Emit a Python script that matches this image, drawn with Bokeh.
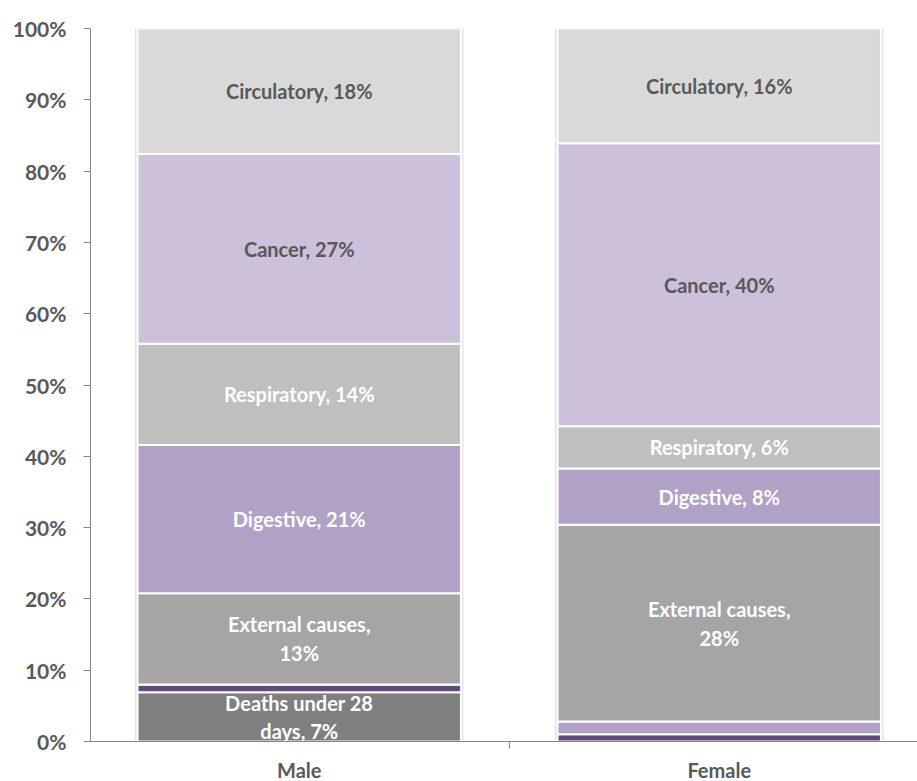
from bokeh.plotting import figure
from bokeh.models import ColumnDataSource, Range1d, FixedTicker
from bokeh.core.properties import value
from bokeh.embed import file_html
from bokeh.resources import INLINE

# ---- data (percent of deaths) ----
categories = ["Male", "Female"]
series = ["Deaths under 28 days", "Other", "Maternal", "External causes",
          "Digestive", "Respiratory", "Cancer", "Circulatory"]
male = [6.9, 1.1, 0.0, 12.8, 20.8, 14.2, 26.6, 17.6]
female = [0.0, 1.0, 1.8, 27.6, 7.9, 5.9, 39.7, 16.1]
labelled = [True, False, False, True, True, True, True, True]
label_names = ["Deaths under 28\ndays, ", "", "", "External causes,\n", "Digestive, ",
               "Respiratory, ", "Cancer, ", "Circulatory, "]
colors = ["#7f7f7f", "#604a7b", "#b2a1c7", "#a5a5a5", "#b2a1c7", "#bfbfbf", "#ccc0da", "#d9d9d9"]
label_colors = ["white", "white", "white", "white", "white", "white", "#595959", "#595959"]
y_ticks = list(range(0, 101, 10))

FONT = "Lato"
FW = 827
BAND = 420
X0 = 0.003

x_pos = [i + 0.5 for i in range(len(categories))]
data = {"x": x_pos}
for s, m, f in zip(series, male, female):
    data[s] = [m, f]
src = ColumnDataSource(data)

p = figure(frame_width=FW, frame_height=713, output_backend="svg", toolbar_location=None,
           x_range=Range1d(X0, FW / BAND + X0), y_range=Range1d(0, 100))
p.min_border_left = 90
p.min_border_right = 0
p.min_border_top = 28
p.min_border_bottom = 40
p.outline_line_color = None
p.background_fill_color = "white"
p.xgrid.visible = False
p.ygrid.visible = False

# faint shadow behind bars
p.vbar(x=x_pos, width=0.77 + 4 / BAND, top=100.3, bottom=0, color="#e4e4e4")

p.vbar_stack(series, x="x", width=0.77, source=src, color=colors,
             line_color="white", line_width=2)

# labels
lx, ly, lt, lc = [], [], [], []
for ci, vals in enumerate([male, female]):
    cum = 0.0
    for si, v in enumerate(vals):
        if labelled[si] and v > 0:
            lx.append(x_pos[ci])
            ly.append(cum + v / 2)
            lt.append(f"{label_names[si]}{v:.0f}%")
            lc.append(label_colors[si])
        cum += v
lsrc = ColumnDataSource(dict(x=lx, y=ly, t=lt, c=lc))
p.text(x="x", y="y", text="t", source=lsrc, text_color="c", text_align="center",
       text_baseline="middle", text_font=value(FONT), text_font_style="bold",
       text_font_size="20px", text_line_height=1.2)

# y axis
p.yaxis.ticker = FixedTicker(ticks=y_ticks)
p.yaxis.major_label_overrides = {t: f"{t}%" for t in y_ticks}
p.yaxis.minor_tick_line_color = None
p.yaxis.major_tick_out = 7
p.yaxis.major_tick_in = 0
p.yaxis.major_label_standoff = 17
p.yaxis.axis_line_color = "#868686"
p.yaxis.major_tick_line_color = "#868686"
p.yaxis.major_label_text_color = "#595959"
p.yaxis.major_label_text_font = FONT
p.yaxis.major_label_text_font_style = "bold"
p.yaxis.major_label_text_font_size = "21px"

# x axis
p.xaxis.ticker = FixedTicker(ticks=x_pos, minor_ticks=[0, 1, 2])
p.xaxis.major_label_overrides = {x: c for x, c in zip(x_pos, categories)}
p.xaxis.major_tick_line_color = None
p.xaxis.major_tick_out = 0
p.xaxis.minor_tick_out = 7
p.xaxis.minor_tick_in = 0
p.xaxis.minor_tick_line_color = "#868686"
p.xaxis.axis_line_color = "#868686"
p.xaxis.major_label_standoff = 9
p.xaxis.major_label_text_color = "#595959"
p.xaxis.major_label_text_font = FONT
p.xaxis.major_label_text_font_style = "bold"
p.xaxis.major_label_text_font_size = "20px"

open("out.html", "w").write(file_html(p, INLINE))
